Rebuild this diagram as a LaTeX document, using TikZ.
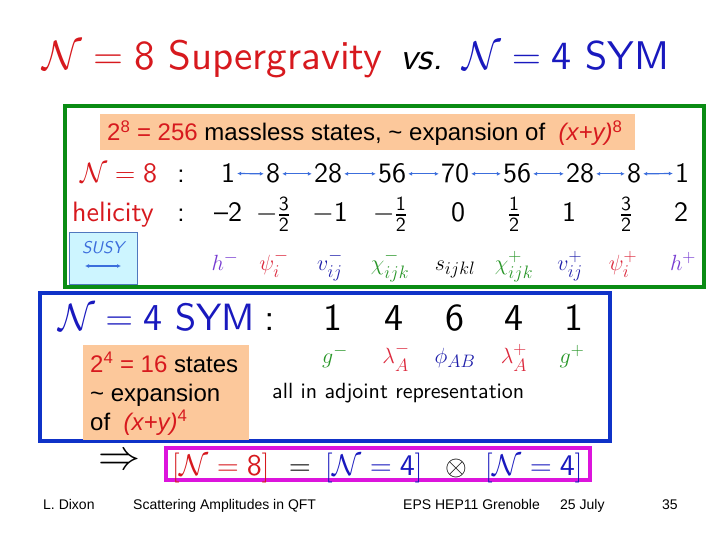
\RequirePackage{fix-cm}
\documentclass[tikz,border=0pt]{standalone}
\usepackage{amsmath,amssymb}
\usepackage{fontspec}
\setsansfont{lmsans10-regular.otf}[ItalicFont=lmsans10-oblique.otf, BoldFont=lmsans10-bold.otf]
\usetikzlibrary{arrows.meta,positioning}
\newfontfamily\arialfont{Liberation Sans}
\newcommand{\NN}{\mathcal{N}}
\newcommand{\hfr}[2]{\frac{\text{\fontsize{20}{21}\selectfont#1}}{\text{\fontsize{20}{21}\selectfont#2}}}
\DeclareMathSizes{22}{22}{18}{14}
\definecolor{sgred}{RGB}{215,25,30}
\definecolor{symblue}{RGB}{25,25,190}
\definecolor{boxgreen}{RGB}{10,140,20}
\definecolor{boxblue}{RGB}{15,50,200}
\definecolor{boxmag}{RGB}{220,20,220}
\definecolor{peach}{RGB}{252,200,155}
\definecolor{susyfill}{RGB}{205,245,255}
\definecolor{susyedge}{RGB}{80,120,190}
\definecolor{arrowblue}{RGB}{60,110,220}
\definecolor{hpurple}{RGB}{120,60,210}
\definecolor{chigreen}{RGB}{40,150,40}
\definecolor{vblue}{RGB}{30,30,170}
\definecolor{psired}{RGB}{220,40,60}

\begin{document}
\begin{tikzpicture}[x=1pt, y=-1pt,
  frame/.style={line width=4pt},
  tag/.style={anchor=base west, inner sep=0pt},
  big/.style={font=\sffamily\fontsize{40}{46}\selectfont},
  mid/.style={font=\sffamily\fontsize{28}{32}\selectfont},
  num/.style={mid, anchor=base, inner sep=2pt},
  bignum/.style={font=\sffamily\fontsize{38}{44}\selectfont, anchor=base, inner sep=0pt},
  prt/.style={anchor=base, inner sep=0pt, font=\fontsize{22}{26}\selectfont},
  plain/.style={tag, font=\arialfont\fontsize{24}{28}\selectfont},
  foot/.style={tag, font=\arialfont\fontsize{14}{16}\selectfont},
  susyarrow/.style={arrowblue, line width=1.2pt, {Latex[length=4pt,width=4pt]}-{Latex[length=4pt,width=4pt]}},
]
  \useasboundingbox[fill=white] (0,0) rectangle (720,540);

  % Title
  \node[tag, big, font=\sffamily\fontsize{41}{46}\selectfont, text=sgred] (ttlA) at (42,70) {$\NN=\mathsf{8}$ Supergravity};
  \node[tag, font=\sffamily\itshape\fontsize{38}{44}\selectfont] (ttlB) at (400,70) {vs.};
  \node[tag, big, text=symblue] (ttlC) at (462,70) {$\NN=\mathsf{4}$ SYM};

  % Frames
  \draw[frame, boxgreen] (65,106) rectangle (704,287);
  \draw[frame, boxblue] (40,293) rectangle (610,441);
  \draw[frame, boxmag] (166,448) rectangle (590,480);

  % 256 states
  \fill[peach] (100,114) rectangle (635,150);
  \node[plain] (cnt8) at (107,141)
    {{\color{sgred}2\textsuperscript{8} = 256} massless states, \textasciitilde{} expansion of \ {\color{sgred}\textit{(x+y)}\textsuperscript{8}}};

  % N=8 multiplet
  \node[tag, mid, text=sgred] (lbl8) at (80,183) {$\NN=\mathsf{8}$};
  \node[tag, mid] (col8) at (177,183) {:};
  \foreach \v/\x [count=\i] in {1/228,8/273,28/328,56/392,70/455,56/517,28/580,8/634,1/682}
    \node[num] (d\i) at (\x,183) {\v};
  \foreach \j [count=\i] in {2,...,9}
    \draw[susyarrow] (d\i.east) -- (d\j.west);

  % helicities
  \node[tag, mid, text=sgred] (lblh) at (72,222) {helicity};
  \node[tag, mid] (colh) at (177,222) {:};
  \foreach \v/\x [count=\i] in {{\textendash2}/228,{$-\hfr{3}{2}$}/273,{$-\mathsf{1}$}/330,
      {$-\hfr{1}{2}$}/390,0/458,{$\hfr{1}{2}$}/514,1/569,{$\hfr{3}{2}$}/626,2/681}
    \node[num] (hl\i) at (\x,222) {\v};

  % SUSY box
  \node[draw=susyedge, fill=susyfill, minimum width=68, minimum height=52, anchor=north west, inner sep=0pt] (susy) at (69,232) {};
  \node[anchor=base, inner sep=0pt, text=arrowblue, font=\sffamily\itshape\fontsize{17}{20}\selectfont] (susyT) at (103,254) {SUSY};
  \coordinate (susyL) at (85,266);
  \coordinate (susyR) at (121,266);
  \draw[susyarrow] (susyL) -- (susyR);

  % N=8 states
  \foreach \p/\c/\x [count=\i] in {{h^-}/hpurple/225,{\psi_i^-}/psired/274,{v_{ij}^-}/vblue/330,
      {\chi_{ijk}^-}/chigreen/390,{s_{ijkl}}/black/455,{\chi_{ijk}^+}/chigreen/514,
      {v_{ij}^+}/vblue/570,{\psi_i^+}/psired/623,{h^+}/hpurple/683}
    \node[prt, text=\c] (p\i) at (\x,270) {$\p$};

  % N=4 multiplet
  \node[tag, font=\sffamily\fontsize{38}{44}\selectfont, text=symblue] (lbl4) at (58,330) {$\NN=\mathsf{4}$ SYM};
  \node[tag, font=\sffamily\fontsize{38}{44}\selectfont] (col4) at (264,330) {:};
  \foreach \v/\x [count=\i] in {1/333,4/394,6/455,4/514,1/574}
    \node[bignum] (e\i) at (\x,330) {\v};
  \foreach \p/\c/\x [count=\i] in {{g^-}/chigreen/335,{\lambda_A^-}/psired/396,{\phi_{AB}}/vblue/455,
      {\lambda_A^+}/psired/514,{g^+}/chigreen/572}
    \node[prt, text=\c] (q\i) at (\x,363) {$\p$};
  \node[tag, font=\sffamily\fontsize{22}{26}\selectfont] (adj) at (272,398) {all in adjoint representation};

  % 16 states
  \fill[peach] (83,345) rectangle (249,440);
  \node[plain] (s4a) at (90,372) {{\color{sgred}2\textsuperscript{4} = 16} states};
  \node[plain] (s4b) at (90,401) {\textasciitilde{} expansion};
  \node[plain] (s4c) at (90,430) {of \ {\color{sgred}\textit{(x+y)}\textsuperscript{4}}};

  % double copy
  \node[anchor=center, inner sep=0pt, font=\fontsize{42}{44}\selectfont] (impl) at (119,462) {$\Rightarrow$};
  \node[tag, font=\sffamily\fontsize{30}{34}\selectfont, text=sgred] (mA) at (172,475) {$[\NN=\mathsf{8}]$};
  \node[anchor=base, inner sep=0pt, font=\fontsize{30}{34}\selectfont] (mEq) at (300,475) {$=$};
  \node[tag, font=\sffamily\fontsize{30}{34}\selectfont, text=symblue] (mB) at (325,475) {$[\NN=\mathsf{4}]$};
  \node[anchor=base, inner sep=0pt, font=\fontsize{28}{32}\selectfont] (mX) at (456,475) {$\otimes$};
  \node[tag, font=\sffamily\fontsize{30}{34}\selectfont, text=symblue] (mC) at (485,475) {$[\NN=\mathsf{4}]$};

  % Footer
  \node[foot] (f1) at (43,509) {L. Dixon};
  \node[foot] (f2) at (133,509) {Scattering Amplitudes in QFT};
  \node[foot] (f3) at (403,509) {EPS HEP11 Grenoble};
  \node[foot] (f4) at (560,509) {25 July};
  \node[foot] (f5) at (662,509) {35};
\end{tikzpicture}
\end{document}
